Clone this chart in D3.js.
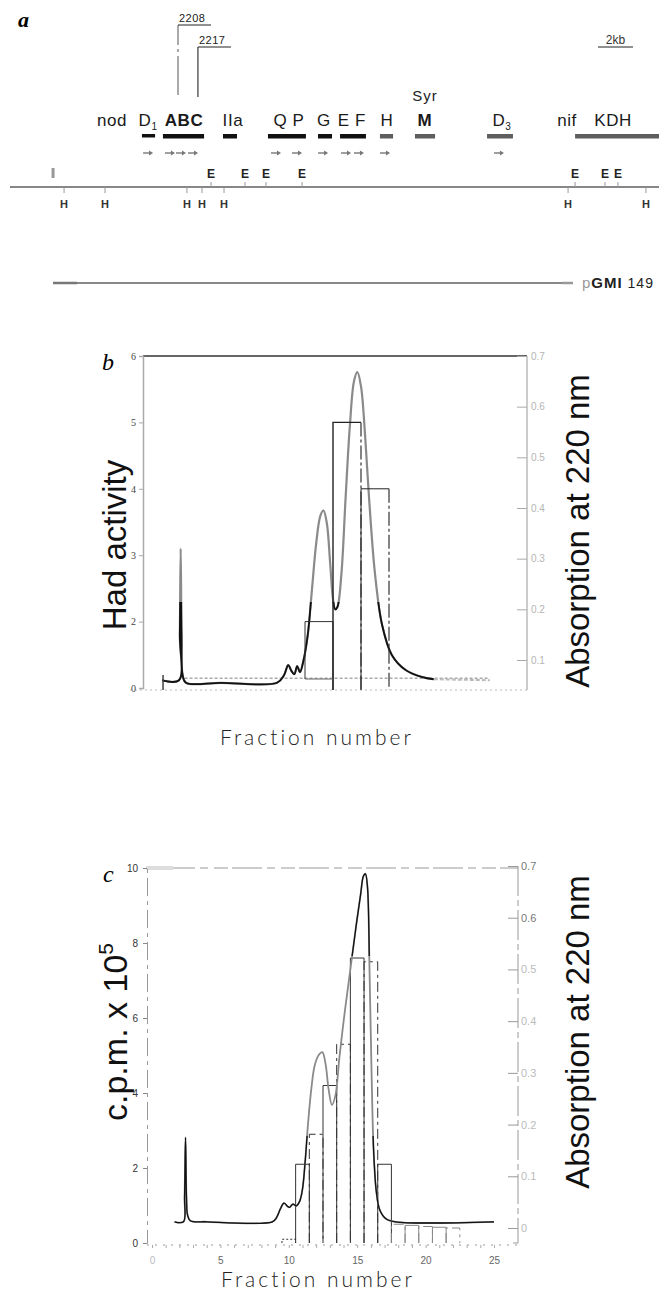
<!DOCTYPE html>
<html>
<head>
<meta charset="utf-8">
<script src="https://cdn.jsdelivr.net/npm/d3@7"></script>
<style>
  body { margin: 0; background: #fff; }
  svg { display: block; }
</style>
</head>
<body>
<svg id="fig" width="659" height="1292"></svg>
<script>
// ---- panel a: physical map, all positions in kb ----
const geneNames = ["nod", "D1", "ABC", "IIa", "Q P", "G", "E F", "H", "M", "D3", "nif", "KDH"];
const geneNameKb = [5.83, 7.89, 9.94, 12.74, 15.94, 17.94, 19.54, 21.54, 23.71, 28.11, 31.83, 34.46];
const geneBarsKb = [[7.54, 8.29], [8.74, 11.09], [12.17, 12.97], [14.74, 16.91], [17.6, 18.4],
                    [18.86, 20.34], [21.14, 21.89], [23.14, 24.29], [27.26, 28.74], [32.29, 37.3]];
const arrowKb = [7.89, 9.14, 9.77, 10.46, 15.2, 16.4, 17.89, 19.2, 19.94, 21.43, 27.94];
const ecoRISites = [11.49, 13.43, 14.63, 16.69, 32.29, 34.0, 34.74];
const hindIIISites = [3.09, 5.43, 10.11, 10.97, 12.23, 31.89, 36.34];
const cloneNames = ["2208", "2217"];
const cloneKb = [9.6, 10.74];
const plasmidKb = [2.46, 32.0];
const scaleBarKb = [33.6, 35.6];

// ---- panel b: Had activity / absorption ----
const absB = [[0.9, 0.06], [1.5, 0.06], [1.53, 0.15], [1.56, 0.32], [1.59, 0.15], [1.63, 0.07],
  [1.75, 0.055], [3, 0.055], [5.0, 0.055], [5.25, 0.07], [5.4, 0.09], [5.52, 0.078], [5.62, 0.072],
  [5.72, 0.088], [5.82, 0.076], [5.95, 0.1], [6.1, 0.15], [6.25, 0.24], [6.4, 0.33], [6.55, 0.385],
  [6.66, 0.395], [6.78, 0.37], [6.9, 0.29], [7.0, 0.22], [7.08, 0.2], [7.16, 0.205], [7.3, 0.27],
  [7.45, 0.42], [7.6, 0.56], [7.75, 0.65], [7.87, 0.668], [8.0, 0.64], [8.15, 0.54], [8.3, 0.41],
  [8.5, 0.27], [8.75, 0.17], [9.1, 0.11], [9.6, 0.08], [10.2, 0.066], [10.6, 0.062]];
const absBTail = [[10.6, 0.062], [12.6, 0.06]];
const hadFrac = [6, 7, 8];
const hadValue = [2, 5, 4];
const hadTicks = [1, 2, 3, 4, 5, 6];
const hadTickLabels = ["0", "2", "3", "4", "5", "6"];
const absTicksB = [0.1, 0.2, 0.3, 0.4, 0.5, 0.6, 0.7];

// ---- panel c: c.p.m. / absorption ----
const absC = [[1.65, 0.012], [2.3, 0.012], [2.38, 0.06], [2.45, 0.175], [2.52, 0.06], [2.6, 0.025],
  [2.8, 0.014], [4, 0.012], [8.8, 0.012], [9.1, 0.02], [9.4, 0.038], [9.65, 0.048], [9.9, 0.042],
  [10.05, 0.04], [10.3, 0.046], [10.55, 0.043], [10.8, 0.052], [11.0, 0.075], [11.2, 0.13],
  [11.4, 0.2], [11.65, 0.27], [11.9, 0.315], [12.2, 0.335], [12.45, 0.34], [12.7, 0.315],
  [12.9, 0.27], [13.15, 0.238], [13.4, 0.255], [13.7, 0.33], [14.1, 0.42], [14.5, 0.5],
  [14.9, 0.58], [15.25, 0.645], [15.45, 0.68], [15.6, 0.685], [15.75, 0.66], [15.9, 0.5],
  [16.05, 0.3], [16.2, 0.15], [16.4, 0.07], [16.65, 0.035], [17.1, 0.018], [17.8, 0.012], [25, 0.012]];
const cpmFrac = [10, 11, 12, 13, 14, 15, 16, 17, 18, 19, 20, 21, 22];
const cpmValue = [0.1, 2.1, 2.9, 4.2, 5.3, 7.6, 7.5, 2.1, 0.5, 0.47, 0.44, 0.42, 0.4];
const cpmTicks = [0, 2, 4, 6, 8, 10];
const fracTicks = [0, 5, 10, 15, 20, 25];
const absTicksC = [0, 0.1, 0.2, 0.3, 0.4, 0.5, 0.6, 0.7];

const svg = d3.select("#fig");
const sans = "'Liberation Sans', Arial, sans-serif";
const serif = "'Liberation Serif', 'Times New Roman', serif";

// ================= panel a =================
const xA = d3.scaleLinear().domain([0, 37]).range([10, 657.5]);
const pa = svg.append("g");

pa.append("text").attr("x", 18).attr("y", 27)
  .style("font", `italic bold 22px ${serif}`).text("a");

// clone brackets 2208 / 2217
cloneNames.forEach((name, i) => {
  const x = xA(cloneKb[i]);
  const yTop = 25 + i * 22;
  pa.append("line").attr("x1", x).attr("x2", x).attr("y1", yTop).attr("y2", 95 + i * 2)
    .attr("stroke", i === 0 ? "#555" : "#111").attr("stroke-width", 1)
    .attr("stroke-dasharray", i === 0 ? "20,4,3,4,40" : null);
  pa.append("line").attr("x1", x).attr("x2", x + 33).attr("y1", yTop).attr("y2", yTop)
    .attr("stroke", "#222").attr("stroke-width", 1);
  pa.append("text").attr("x", x + 1).attr("y", yTop - 3)
    .style("font", `11px ${sans}`).style("letter-spacing", "0.5px").attr("fill", "#222").text(name);
});

// 2 kb scale bar
pa.append("line").attr("x1", xA(scaleBarKb[0])).attr("x2", xA(scaleBarKb[1]))
  .attr("y1", 47).attr("y2", 47).attr("stroke", "#222");
pa.append("text").attr("x", (xA(scaleBarKb[0]) + xA(scaleBarKb[1])) / 2).attr("y", 44)
  .attr("text-anchor", "middle").style("font", `12px ${sans}`).attr("fill", "#333").text("2kb");

// gene labels
const boldNames = ["ABC", "M"];
geneNames.forEach((g, i) => {
  const t = pa.append("text").attr("x", xA(geneNameKb[i])).attr("y", 126)
    .attr("text-anchor", "middle")
    .style("font", `${boldNames.includes(g) ? "bold " : ""}17px ${sans}`)
    .style("letter-spacing", "0.6px")
    .attr("fill", "#1a1a1a");
  if (g === "D1" || g === "D3") {
    t.append("tspan").text("D");
    t.append("tspan").attr("dy", 4).style("font-size", "10px").text(g[1]);
  } else {
    t.text(g);
  }
});
pa.append("text").attr("x", xA(geneNameKb[8])).attr("y", 101).attr("text-anchor", "middle")
  .style("font", `15px ${sans}`).style("letter-spacing", "1px").attr("fill", "#222").text("Syr");

// gene extents
pa.selectAll(".gbar").data(geneBarsKb).join("rect")
  .attr("x", d => xA(d[0])).attr("y", 134)
  .attr("width", d => xA(d[1]) - xA(d[0])).attr("height", (d, i) => i === 0 ? 3.5 : 4.5)
  .attr("fill", (d, i) => i < 6 ? "#111" : "#5e5e5e");

// transcription arrows
arrowKb.forEach(k => {
  const x = xA(k);
  pa.append("line").attr("x1", x - 5).attr("x2", x + 3).attr("y1", 153).attr("y2", 153)
    .attr("stroke", "#777").attr("stroke-width", 1.4);
  pa.append("path").attr("d", `M${x + 1},150.5 L${x + 5},153 L${x + 1},155.5 Z`).attr("fill", "#777");
});

// restriction map line
pa.append("line").attr("x1", 10).attr("x2", 659).attr("y1", 187).attr("y2", 187)
  .attr("stroke", "#111").attr("stroke-width", 1.2);
ecoRISites.forEach(k => {
  const x = xA(k);
  pa.append("line").attr("x1", x).attr("x2", x).attr("y1", 182).attr("y2", 187).attr("stroke", "#999");
  pa.append("text").attr("x", x).attr("y", 178).attr("text-anchor", "middle")
    .style("font", `bold 12px ${sans}`).attr("fill", "#222").text("E");
});
hindIIISites.forEach(k => {
  const x = xA(k);
  pa.append("line").attr("x1", x).attr("x2", x).attr("y1", 187).attr("y2", 193).attr("stroke", "#999");
  pa.append("text").attr("x", x).attr("y", 208).attr("text-anchor", "middle")
    .style("font", `bold 11px ${sans}`).attr("fill", "#333").text("H");
});
pa.append("rect").attr("x", xA(plasmidKb[0]) - 1.5).attr("y", 168).attr("width", 3).attr("height", 10)
  .attr("fill", "#999");

// pGMI149 insert
pa.append("line").attr("x1", xA(plasmidKb[0])).attr("x2", xA(plasmidKb[1])).attr("y1", 283).attr("y2", 283)
  .attr("stroke", "#111").attr("stroke-width", 1);
pa.append("line").attr("x1", xA(plasmidKb[0])).attr("x2", xA(plasmidKb[0]) + 24).attr("y1", 283).attr("y2", 283)
  .attr("stroke", "#777").attr("stroke-width", 2.5);
pa.append("line").attr("x1", xA(plasmidKb[1]) - 8).attr("x2", xA(plasmidKb[1]) + 3).attr("y1", 283).attr("y2", 283)
  .attr("stroke", "#999").attr("stroke-width", 2.5);
const pg = pa.append("text").attr("x", 582).attr("y", 288).style("font", `15px ${sans}`)
  .style("letter-spacing", "1px").attr("fill", "#222");
pg.append("tspan").attr("fill", "#999").text("p");
pg.append("tspan").style("font-weight", "bold").text("GMI");
pg.append("tspan").style("font-size", "14px").text(" 149");

// ================= panel b =================
const xB = d3.scaleLinear().domain([0, 14]).range([137, 529]);
const yHad = d3.scaleLinear().domain([1, 6]).range([688, 356]);
const yAbsB = d3.scaleLinear().domain([0.1, 0.7]).range([660, 356]);
const pb = svg.append("g");

pb.append("text").attr("x", 102).attr("y", 370).style("font", `italic 24px ${serif}`).text("b");

// frame
pb.append("line").attr("x1", 143).attr("x2", 527).attr("y1", 356).attr("y2", 356)
  .attr("stroke", "#333").attr("stroke-width", 1.5);
pb.append("line").attr("x1", 130).attr("x2", 527).attr("y1", 690).attr("y2", 690)
  .attr("stroke", "#bbb").attr("stroke-width", 1.2).attr("stroke-dasharray", "2,3");

const leftB = pb.append("g").attr("transform", "translate(143,0)")
  .call(d3.axisLeft(yHad).tickValues(hadTicks).tickSize(4).tickFormat((d, i) => hadTickLabels[i]));
leftB.select(".domain").attr("stroke", "#aaa").attr("stroke-width", 1.5);
leftB.selectAll(".tick line").attr("stroke", "#aaa");
leftB.selectAll("text").style("font", `10px ${serif}`).attr("fill", "#444");

const rightB = pb.append("g").attr("transform", "translate(527,0)")
  .call(d3.axisRight(yAbsB).tickValues(absTicksB).tickSize(-10).tickPadding(4).tickFormat(d3.format(".1f")));
rightB.select(".domain").attr("d", "M0,356V690").attr("stroke", "#aaa").attr("stroke-width", 1.2);
rightB.selectAll(".tick line").attr("stroke", "#aaa");
rightB.selectAll("text").style("font", `10px ${sans}`).attr("fill", "#b5b5b5");

// dotted activity baseline
pb.append("path").datum([[1.7, 0.064], [12.6, 0.064]])
  .attr("d", d3.line().x(d => xB(d[0])).y(d => yAbsB(d[1])))
  .attr("stroke", "#aaa").attr("stroke-width", 1.5).attr("stroke-dasharray", "3,2").attr("fill", "none");

// absorption trace: gray upper part, black lower part (as printed)
const lineB = d3.line().x(d => xB(d[0])).y(d => yAbsB(d[1])).curve(d3.curveCatmullRom);
svg.append("clipPath").attr("id", "lowB").append("rect").attr("x", 0).attr("y", 602).attr("width", 659).attr("height", 120);
pb.append("path").datum(absB).attr("d", lineB).attr("fill", "none").attr("stroke", "#8a8a8a").attr("stroke-width", 2.2);
pb.append("path").datum(absB).attr("d", lineB).attr("fill", "none").attr("stroke", "#111").attr("stroke-width", 1.8)
  .attr("clip-path", "url(#lowB)");
pb.append("path").datum(absBTail).attr("d", d3.line().x(d => xB(d[0])).y(d => yAbsB(d[1])))
  .attr("fill", "none").attr("stroke", "#bbb").attr("stroke-width", 2).attr("stroke-dasharray", "4,2");
pb.append("line").attr("x1", xB(0.93)).attr("x2", xB(0.93)).attr("y1", 675).attr("y2", 690)
  .attr("stroke", "#444").attr("stroke-width", 1.5);

// Had activity histogram
hadFrac.forEach((f, i) => {
  const x0 = xB(f), x1 = xB(f + 1), top = yHad(hadValue[i]), base = i === 0 ? 679 : 690;
  pb.append("path").attr("d", `M${x0},${base}V${top}H${x1}`).attr("fill", "none")
    .attr("stroke", i === 0 ? "#333" : "#222").attr("stroke-width", i === 1 ? 1.4 : 1);
  pb.append("line").attr("x1", x1).attr("x2", x1).attr("y1", top).attr("y2", 690)
    .attr("stroke", "#333").attr("stroke-width", 1.2).attr("stroke-dasharray", i === 0 ? null : "14,3,3,3");
});
pb.append("line").attr("x1", xB(6)).attr("x2", xB(7)).attr("y1", 679).attr("y2", 679).attr("stroke", "#666");

pb.append("text").attr("transform", "translate(126,545) rotate(-90)").attr("text-anchor", "middle")
  .style("font", `33px ${sans}`).attr("fill", "#111").text("Had activity");
pb.append("text").attr("transform", "translate(589,531) rotate(-90)").attr("text-anchor", "middle")
  .style("font", `33px ${sans}`).attr("fill", "#111").text("Absorption at 220 nm");
pb.append("text").attr("x", 317).attr("y", 745).attr("text-anchor", "middle")
  .style("font", `300 21px Lato, ${sans}`).style("letter-spacing", "3px").attr("fill", "#222").text("Fraction number");

// ================= panel c =================
const xC = d3.scaleLinear().domain([0, 25]).range([152, 494]);
const yCpm = d3.scaleLinear().domain([0, 10]).range([1243, 868]);
const yAbsC = d3.scaleLinear().domain([0, 0.7]).range([1228, 866]);
const pc = svg.append("g");

pc.append("text").attr("x", 103).attr("y", 882).style("font", `italic 24px ${serif}`).text("c");

pc.append("line").attr("x1", 147).attr("x2", 518).attr("y1", 868).attr("y2", 868)
  .attr("stroke", "#999").attr("stroke-width", 1.2).attr("stroke-dasharray", "14,4,30,5,8,6");
pc.append("rect").attr("x", 146).attr("y", 866).attr("width", 27).attr("height", 4).attr("fill", "#ddd");

const leftC = pc.append("g").attr("transform", "translate(147,0)")
  .call(d3.axisLeft(yCpm).tickValues(cpmTicks).tickSize(4).tickPadding(5));
leftC.select(".domain").attr("stroke", "#999").attr("stroke-dasharray", "18,5,4,5");
leftC.selectAll(".tick line").attr("stroke", "#888");
leftC.selectAll("text").style("font", `10px ${sans}`).attr("fill", "#333");

const rightC = pc.append("g").attr("transform", "translate(518,0)")
  .call(d3.axisRight(yAbsC).tickValues(absTicksC).tickSize(-10).tickPadding(3)
    .tickFormat(d => d === 0 ? "0" : d3.format(".1f")(d)));
rightC.select(".domain").attr("d", "M0,866V1243H-6").attr("stroke", "#999").attr("stroke-dasharray", "30,4,6,4");
rightC.selectAll(".tick line").attr("stroke", "#999");
rightC.selectAll("text").style("font", `11px ${sans}`).attr("fill", d => d >= 0.6 ? "#777" : "#bbb");

const bottomC = pc.append("g").attr("transform", "translate(0,1245)")
  .call(d3.axisBottom(xC).tickValues(d3.range(0, 26)).tickSize(3).tickFormat(""));
bottomC.select(".domain").attr("d", "M147,0H518").attr("stroke", "#999").attr("stroke-dasharray", "2,6");
bottomC.selectAll(".tick line").attr("stroke", "#aaa");
pc.append("g").attr("transform", "translate(0,1245)")
  .call(d3.axisBottom(xC).tickValues(fracTicks).tickSize(0).tickPadding(12))
  .call(g => g.select(".domain").remove())
  .selectAll("text").style("font", `10px ${sans}`).attr("fill", d => d === 0 ? "#bbb" : "#666");

// c.p.m. histogram
cpmFrac.forEach((f, i) => {
  const x0 = xC(f - 0.5), x1 = xC(f + 0.5), top = yCpm(cpmValue[i]), base = yCpm(0);
  const dash = i === 0 ? "2,2" : (i % 2 === 0 ? "10,4,3,4" : null);
  pc.append("path").attr("d", `M${x0},${base}V${top}H${x1}V${base}`).attr("fill", "none")
    .attr("stroke", i >= 8 ? "#888" : "#333").attr("stroke-width", 1)
    .attr("stroke-dasharray", dash);
});

// absorption trace
const lineC = d3.line().x(d => xC(d[0])).y(d => yAbsC(d[1])).curve(d3.curveCatmullRom);
const clipC = svg.append("clipPath").attr("id", "darkC");
clipC.append("rect").attr("x", 0).attr("y", 1136).attr("width", 659).attr("height", 150);
clipC.append("rect").attr("x", 0).attr("y", 860).attr("width", 659).attr("height", 96);
pc.append("path").datum(absC).attr("d", lineC).attr("fill", "none").attr("stroke", "#8a8a8a").attr("stroke-width", 1.8);
pc.append("path").datum(absC).attr("d", lineC).attr("fill", "none").attr("stroke", "#111").attr("stroke-width", 1.3)
  .attr("clip-path", "url(#darkC)");

const cpmLabel = pc.append("text").attr("transform", "translate(127,1032) rotate(-90)").attr("text-anchor", "middle")
  .style("font", `34px ${sans}`).attr("fill", "#111");
cpmLabel.append("tspan").text("c.p.m. x 10");
cpmLabel.append("tspan").attr("dy", -14).style("font-size", "21px").text("5");
pc.append("text").attr("transform", "translate(589,1032) rotate(-90)").attr("text-anchor", "middle")
  .style("font", `33px ${sans}`).attr("fill", "#111").text("Absorption at 220 nm");
pc.append("text").attr("x", 318).attr("y", 1287).attr("text-anchor", "middle")
  .style("font", `300 21px Lato, ${sans}`).style("letter-spacing", "3px").attr("fill", "#222").text("Fraction number");
</script>
</body>
</html>
